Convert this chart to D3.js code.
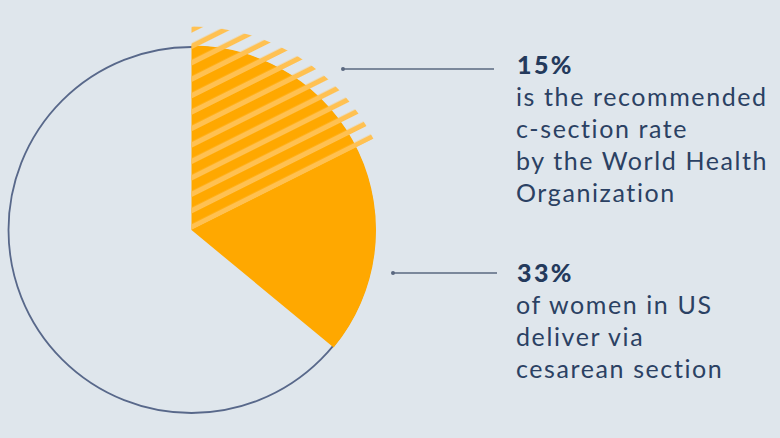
<!DOCTYPE html>
<html>
<head>
<meta charset="utf-8">
<script src="https://cdn.jsdelivr.net/npm/d3@7"></script>
<style>
  html, body { margin: 0; padding: 0; background: #DFE6EC; }
  svg { display: block; }
</style>
</head>
<body>
<svg id="chart" width="780" height="438"></svg>
<script>
// ---- data ----
const categories = ["Cesarean", "Other"];
const pieValues = [36, 64];            // drawn orange slice share (percent of circle)
const hatchValues = [17.6, 82.4];      // drawn hatched WHO wedge share
const headlines = ["15%", "33%"];
const captions = [
  ["is the recommended", "c-section rate", "by the World Health", "Organization"],
  ["of women in US", "deliver via", "cesarean section"]
];

// ---- layout ----
const W = 780, H = 438;
const cx = 191.5, cy = 230;
const R = 183;
const colors = {
  bg: "#DFE6EC", orange: "#FFA800", stripe: "#FFC152",
  stroke: "#58688A", line: "#5A6880", bold: "#243A5C", text: "#2B4163"
};

const svg = d3.select("#chart");
svg.append("rect").attr("width", W).attr("height", H).attr("fill", colors.bg);

const defs = svg.append("defs");
const period = 14.7, stripeW = 5.2;
const pat = defs.append("pattern")
  .attr("id", "stripes")
  .attr("patternUnits", "userSpaceOnUse")
  .attr("width", 40).attr("height", period)
  .attr("patternTransform", "rotate(-26.57)");
pat.append("rect").attr("x", 0).attr("y", period - stripeW)
  .attr("width", 40).attr("height", stripeW).attr("fill", colors.stripe);

const g = svg.append("g").attr("transform", `translate(${cx},${cy})`);

const pie = d3.pie().sort(null).value(d => d);
const slices = pie(pieValues);
const hatch = pie(hatchValues);

// outline circle
g.append("circle").attr("r", R).attr("fill", "none")
  .attr("stroke", colors.stroke).attr("stroke-width", 1.8);

// orange slice
const arcMain = d3.arc().innerRadius(0).outerRadius(R + 1.5);
g.append("path").datum(slices[0]).attr("d", arcMain).attr("fill", colors.orange);

// hatched wedge
const arcHatch = d3.arc().innerRadius(0).outerRadius(R + 20.5);
g.append("path").datum(hatch[0]).attr("d", arcHatch).attr("fill", "url(#stripes)");

// annotations
const notes = [
  { dot: [343, 69], end: 494, tx: 517, ty: 74 },
  { dot: [393, 273], end: 497, tx: 517, ty: 281.7 }
];
const lineH = 32;
notes.forEach((n, i) => {
  svg.append("line").attr("x1", n.dot[0]).attr("y1", n.dot[1])
    .attr("x2", n.end).attr("y2", n.dot[1])
    .attr("stroke", colors.line).attr("stroke-width", 1.3);
  svg.append("circle").attr("cx", n.dot[0]).attr("cy", n.dot[1]).attr("r", 2)
    .attr("fill", colors.line);
  svg.append("text").attr("x", n.tx).attr("y", n.ty)
    .attr("font-family", "Lato").attr("font-weight", 900)
    .attr("font-size", 25).attr("letter-spacing", 2.4)
    .attr("fill", colors.bold).text(headlines[i]);
  captions[i].forEach((c, j) => {
    svg.append("text").attr("x", n.tx - 1).attr("y", n.ty + lineH * (j + 1))
      .attr("font-family", "Lato").attr("font-weight", 400)
      .attr("font-size", 25).attr("letter-spacing", 1.6)
      .attr("fill", colors.text).text(c);
  });
});
</script>
</body>
</html>
